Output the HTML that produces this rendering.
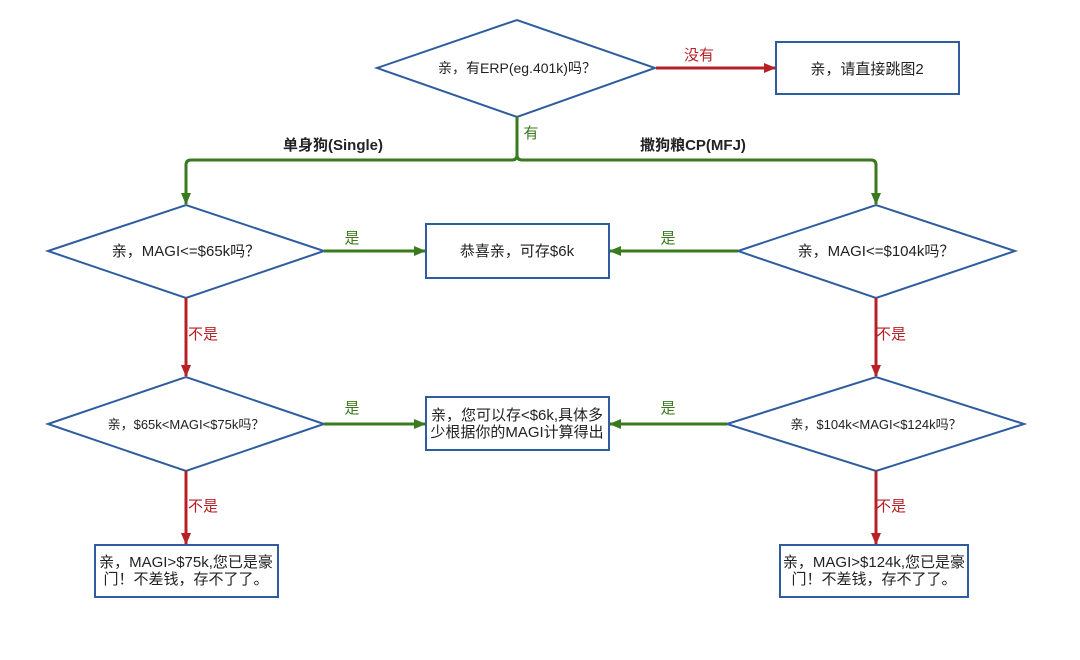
<!DOCTYPE html>
<html><head><meta charset="utf-8"><style>
body{margin:0;background:#fff}
svg text{font-family:"Liberation Sans","Noto Sans CJK SC",sans-serif;}
</style></head><body>
<svg width="1080" height="655" viewBox="0 0 1080 655" xmlns="http://www.w3.org/2000/svg">
<defs>
<marker id="g" markerWidth="12" markerHeight="12" refX="11" refY="6" orient="auto" markerUnits="userSpaceOnUse" viewBox="0 0 12 12"><path d="M0,1 L12,6 L0,11 z" fill="#3a7a1e"/></marker>
<marker id="r" markerWidth="12" markerHeight="12" refX="11" refY="6" orient="auto" markerUnits="userSpaceOnUse" viewBox="0 0 12 12"><path d="M0,1 L12,6 L0,11 z" fill="#b82025"/></marker>
</defs>
<g fill="#fff" stroke="#2e5c9e" stroke-width="2">
<polygon points="377,68 517,20 655,68 517,117"/>
<rect x="776" y="42" width="183" height="52"/>
<polygon points="48,251 186,205 324,251 186,298"/>
<rect x="426" y="224" width="183" height="54"/>
<polygon points="738,251 876,205 1015,251 876,298"/>
<polygon points="48,424 186,377 324,424 186,471"/>
<rect x="426" y="397" width="183" height="53"/>
<polygon points="727,424 876,377 1024,424 876,471"/>
<rect x="95" y="545" width="183" height="52"/>
<rect x="780" y="545" width="188" height="52"/>
</g>
<g fill="none" stroke-width="3">
<path d="M656,68 L775,68" stroke="#b82025" marker-end="url(#r)"/>
<path d="M517,117 L517,155 Q517,160 512,160 L191,160 Q186,160 186,165 L186,204" stroke="#3a7a1e" marker-end="url(#g)"/>
<path d="M517,155 Q517,160 522,160 L871,160 Q876,160 876,165 L876,204" stroke="#3a7a1e" marker-end="url(#g)"/>
<path d="M324,251 L425,251" stroke="#3a7a1e" marker-end="url(#g)"/>
<path d="M738,251 L610,251" stroke="#3a7a1e" marker-end="url(#g)"/>
<path d="M324,424 L425,424" stroke="#3a7a1e" marker-end="url(#g)"/>
<path d="M727,424 L610,424" stroke="#3a7a1e" marker-end="url(#g)"/>
<path d="M186,298 L186,376" stroke="#b82025" marker-end="url(#r)"/>
<path d="M876,298 L876,376" stroke="#b82025" marker-end="url(#r)"/>
<path d="M186,471 L186,544" stroke="#b82025" marker-end="url(#r)"/>
<path d="M876,471 L876,544" stroke="#b82025" marker-end="url(#r)"/>
</g>
<g font-size="14" fill="#222" text-anchor="middle">
<text x="517" y="73">亲，有ERP(eg.401k)吗？</text>
<text x="867" y="74" font-size="15">亲，请直接跳图2</text>
<text x="186" y="256" font-size="15">亲，MAGI&lt;=$65k吗？</text>
<text x="517" y="256" font-size="15">恭喜亲，可存$6k</text>
<text x="876" y="256" font-size="15">亲，MAGI&lt;=$104k吗？</text>
<text x="186" y="429" font-size="13">亲，$65k&lt;MAGI&lt;$75k吗？</text>
<text x="517" y="420" font-size="15">亲，您可以存&lt;$6k,具体多</text>
<text x="517" y="437" font-size="15">少根据你的MAGI计算得出</text>
<text x="876" y="429" font-size="13">亲，$104k&lt;MAGI&lt;$124k吗？</text>
<text x="186" y="567" font-size="15">亲，MAGI&gt;$75k,您已是豪</text>
<text x="186" y="584" font-size="15">门！不差钱，存不了了。</text>
<text x="874" y="567" font-size="15">亲，MAGI&gt;$124k,您已是豪</text>
<text x="874" y="584" font-size="15">门！不差钱，存不了了。</text>
</g>
<g font-size="15" text-anchor="middle">
<text x="699" y="60" fill="#b82025">没有</text>
<text x="531" y="138" fill="#3a7a1e">有</text>
<text x="333" y="150" font-weight="bold" fill="#222">单身狗(Single)</text>
<text x="693" y="150" font-weight="bold" fill="#222">撒狗粮CP(MFJ)</text>
<text x="352" y="243" fill="#3a7a1e">是</text>
<text x="668" y="243" fill="#3a7a1e">是</text>
<text x="352" y="413" fill="#3a7a1e">是</text>
<text x="668" y="413" fill="#3a7a1e">是</text>
<text x="203" y="339" fill="#b82025">不是</text>
<text x="891" y="339" fill="#b82025">不是</text>
<text x="203" y="511" fill="#b82025">不是</text>
<text x="891" y="511" fill="#b82025">不是</text>
</g>
</svg>
</body></html>
